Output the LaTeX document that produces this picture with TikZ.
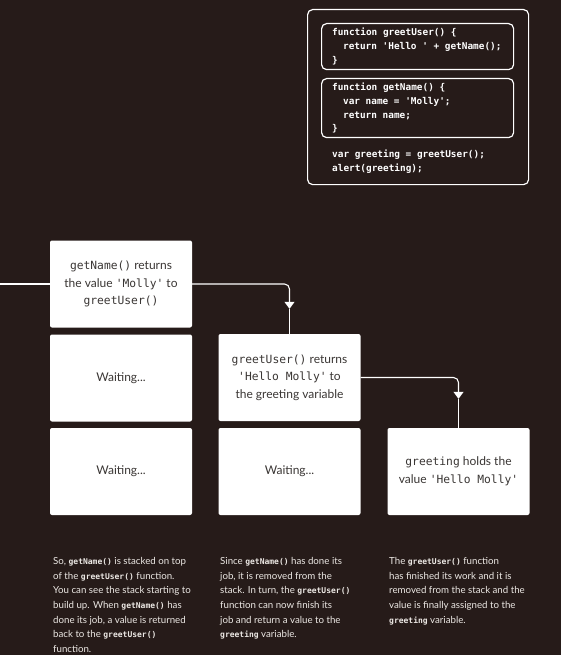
\documentclass[tikz,border=0pt]{standalone}
\usepackage{fontspec}
\setmainfont{Lato}
\newfontfamily\codefont{DejaVu Sans Mono}
\usetikzlibrary{arrows.meta,positioning}
\definecolor{night}{RGB}{38,27,25}
\definecolor{ink}{RGB}{58,54,52}
\definecolor{chalk}{RGB}{236,232,228}
\newcommand\fixspace{\spaceskip=.6em\relax}
\newcommand\js[1]{{\codefont\fontsize{11.3}{13}\selectfont\fixspace #1}}
\newcommand\jsb[1]{{\codefont\bfseries\fontsize{8}{9}\selectfont #1}}
\newcommand\ind{\hspace*{11pt}}

\begin{document}
\begin{tikzpicture}[x=1pt,y=-1pt,
  stackbox/.style={fill=white,rounded corners=2pt,minimum width=142pt,minimum height=87pt,
    align=center,text=ink,font=\fontsize{12}{17.5}\selectfont,inner sep=0pt},
  conn/.style={draw=white,line width=1.1pt,rounded corners=5pt},
  codeframe/.style={draw=white,line width=1.2pt,rounded corners=5pt},
  listing/.style={text=white,align=left,font=\codefont\bfseries\fontsize{9.4}{13.7}\selectfont,
    execute at begin node=\fixspace},
  fnbox/.style={codeframe,listing,text width=171pt,inner xsep=10.5pt,inner ysep=2pt,anchor=north west},
  note/.style={anchor=north west,text=chalk,align=left,font=\fontsize{9.7}{14.7}\selectfont,inner sep=0pt}]
  \fill[night] (0,0) rectangle (561,655);
  \useasboundingbox (0,0) rectangle (561,655);

  % the program
  \node[codeframe,minimum width=221pt,minimum height=175pt,anchor=north west] (prog) at (307,9) {};
  \node[fnbox,minimum height=46pt] (fngreet) at (321,23)
    {function greetUser() \{\\\ind return 'Hello ' + getName();\\\}};
  \node[fnbox,minimum height=59pt] (fnname) at (321,78)
    {function getName() \{\\\ind var name = 'Molly';\\\ind return name;\\\}};
  \node[listing,inner sep=0pt,anchor=west] (calls) at (332,162) {var greeting = greetUser();\\alert(greeting);};

  % the stack
  \node[stackbox] (getname) at (121,284) {\js{getName()} returns\\the value \js{'Molly'} to\\\js{greetUser()}};
  \node[stackbox] (greetuser) at (289.5,377.5) {\js{greetUser()} returns\\\js{'Hello Molly'} to\\the greeting variable};
  \node[stackbox] (greeting) at (458.5,471.5) {\js{greeting} holds the\\value \js{'Hello Molly'}};
  \foreach \i/\x/\y in {1/121/378,2/121/471.5,3/289.5/471.5}
    \node[stackbox] (wait\i) at (\x,\y) {Waiting...};

  \coordinate (edge) at (0,284);
  \path (greetuser.north) ++(0,-25) coordinate (tipa);
  \path (greeting.north) ++(0,-29) coordinate (tipb);
  \draw[conn] (edge) -- (getname);
  \draw[conn,-{Triangle[width=10pt,length=7pt]}] (getname.east) -| (tipa);
  \draw[conn] (tipa) -- (greetuser.north);
  \draw[conn,-{Triangle[width=10pt,length=7pt]}] (greetuser.east) -| (tipb);
  \draw[conn] (tipb) -- (greeting.north);

  \node[note] (notea) at (53,557) {So, \jsb{getName()} is stacked on top\\of the \jsb{greetUser()} function.\\You can see the stack starting to\\build up. When \jsb{getName()} has\\done its job, a value is returned\\back to the \jsb{greetUser()}\\function.};
  \node[note] (noteb) at (220,557) {Since \jsb{getName()} has done its\\job, it is removed from the\\stack. In turn, the \jsb{greetUser()}\\function can now finish its\\job and return a value to the\\\jsb{greeting} variable.};
  \node[note] (notec) at (389,557) {The \jsb{greetUser()} function\\has finished its work and it is\\removed from the stack and the\\value is finally assigned to the\\\jsb{greeting} variable.};
\end{tikzpicture}
\end{document}
